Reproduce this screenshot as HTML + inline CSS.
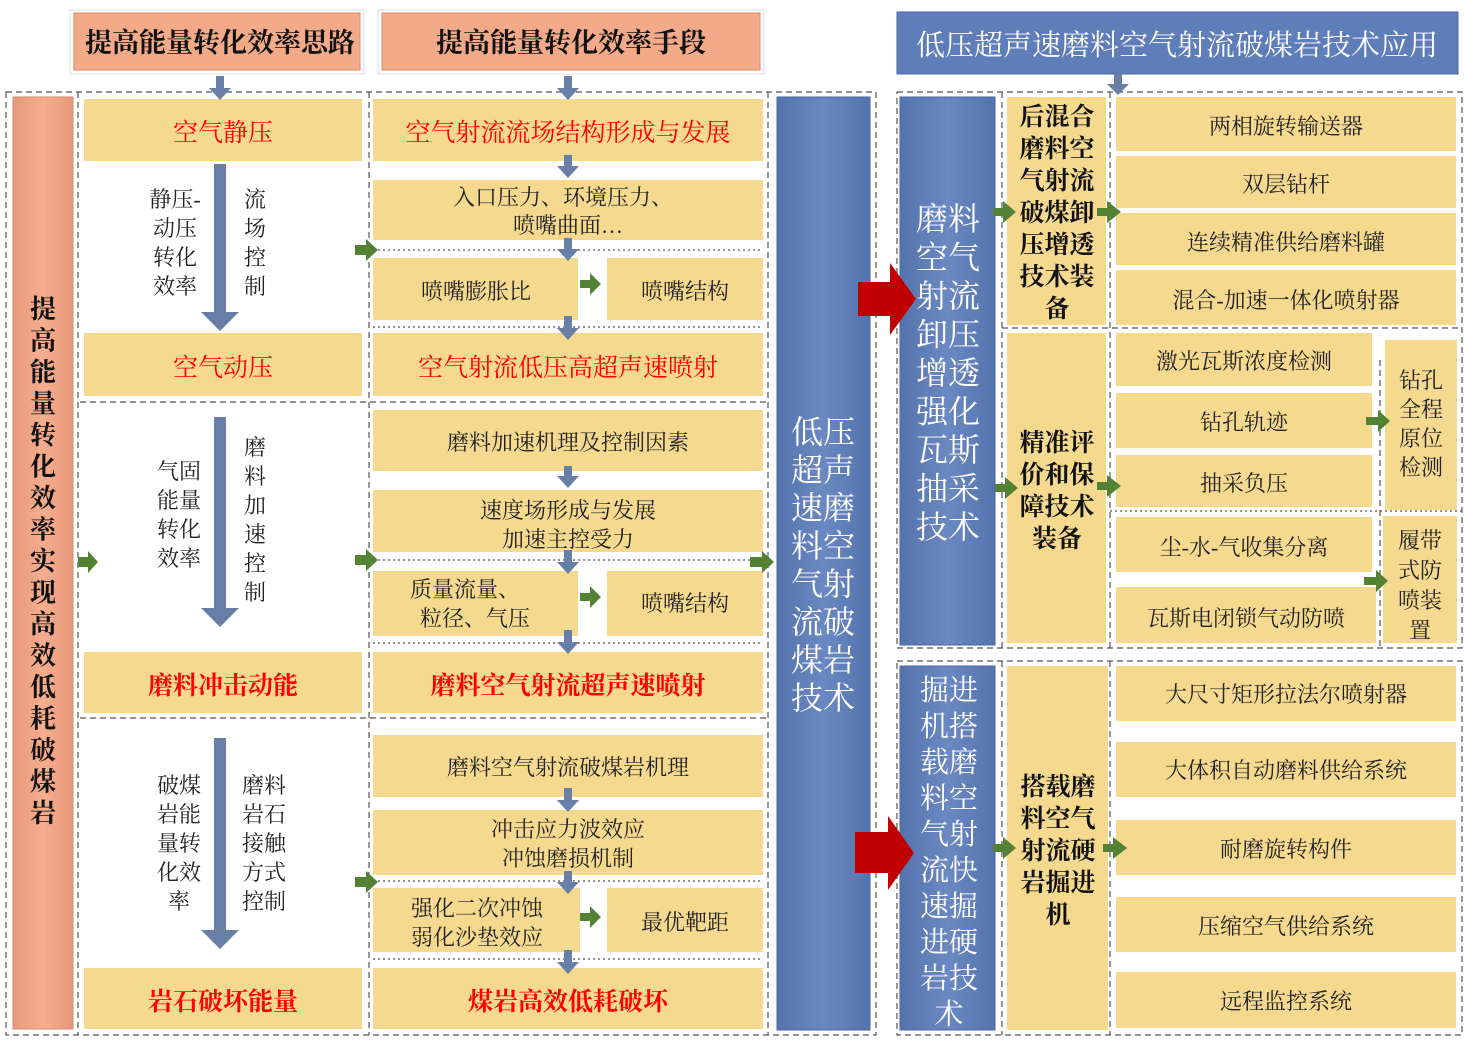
<!DOCTYPE html>
<html><head><meta charset="utf-8"><style>
html,body{margin:0;padding:0;background:#fff}
svg{display:block}
text{font-family:"Liberation Serif","Noto Serif CJK SC",serif;}
.y{fill:#f5d98f}
.n{font-size:22px;fill:#222;text-anchor:middle}
.r{font-size:25px;fill:#ff0000;text-anchor:middle}
.h{font-size:27px;fill:#111;text-anchor:middle;font-weight:bold}
.b{font-size:25px;fill:#111;text-anchor:middle;font-weight:bold}
.w{font-size:31px;fill:#fff;text-anchor:middle}
.d{fill:none;stroke:#555;stroke-width:1.2;stroke-dasharray:6 4}
.dt{fill:none;stroke:#555;stroke-width:1.2;stroke-dasharray:2 3}
.g{fill:#548235}
.ba{fill:#6a7fa8}
</style></head><body>
<svg width="1465" height="1054" viewBox="0 0 1465 1054" xmlns="http://www.w3.org/2000/svg">
<defs>
<linearGradient id="bl" x1="0" x2="1"><stop offset="0" stop-color="#5473ad"/><stop offset="0.5" stop-color="#6b88c2"/><stop offset="1" stop-color="#5473ad"/></linearGradient>
<linearGradient id="sa" x1="0" x2="1"><stop offset="0" stop-color="#e9977a"/><stop offset="0.5" stop-color="#f4ae8e"/><stop offset="1" stop-color="#e9977a"/></linearGradient>
</defs>
<!-- headers -->
<rect x="70" y="10" width="294" height="64" fill="#fff" stroke="#ddd"/>
<rect x="74" y="13" width="286" height="57" fill="#f2aa88" stroke="#d88a6a"/>
<text x="220" y="52" class="h">提高能量转化效率思路</text>
<rect x="378" y="10" width="386" height="64" fill="#fff" stroke="#ddd"/>
<rect x="382" y="13" width="378" height="57" fill="#f2aa88" stroke="#d88a6a"/>
<text x="571" y="52" class="h">提高能量转化效率手段</text>
<rect x="897" y="12" width="561" height="62" fill="#5f7db8" stroke="#4a66a0"/>
<text x="1177" y="55" style="font-size:29px;fill:#fff;text-anchor:middle">低压超声速磨料空气射流破煤岩技术应用</text>

<!-- left outer dashed -->
<rect x="6" y="92" width="870" height="943" class="d"/>
<line x1="78" y1="92" x2="78" y2="1035" class="d"/>
<line x1="369" y1="92" x2="369" y2="1035" class="d"/>
<line x1="768" y1="92" x2="768" y2="1035" class="d"/>
<line x1="80" y1="402" x2="768" y2="402" class="d"/>
<line x1="80" y1="718" x2="768" y2="718" class="d"/>
<!-- left salmon -->
<rect x="13" y="97" width="60" height="932" fill="url(#sa)" stroke="#d88a6a"/>
<text class="b" style="font-size:26px">
<tspan x="43" y="318">提</tspan><tspan x="43" dy="31.5">高</tspan><tspan x="43" dy="31.5">能</tspan><tspan x="43" dy="31.5">量</tspan><tspan x="43" dy="31.5">转</tspan><tspan x="43" dy="31.5">化</tspan><tspan x="43" dy="31.5">效</tspan><tspan x="43" dy="31.5">率</tspan><tspan x="43" dy="31.5">实</tspan><tspan x="43" dy="31.5">现</tspan><tspan x="43" dy="31.5">高</tspan><tspan x="43" dy="31.5">效</tspan><tspan x="43" dy="31.5">低</tspan><tspan x="43" dy="31.5">耗</tspan><tspan x="43" dy="31.5">破</tspan><tspan x="43" dy="31.5">煤</tspan><tspan x="43" dy="31.5">岩</tspan>
</text>

<!-- col1 -->
<rect x="84" y="99" width="278" height="62" class="y"/><text x="223" y="141" class="r">空气静压</text>
<rect x="84" y="333" width="278" height="63" class="y"/><text x="223" y="376" class="r">空气动压</text>
<rect x="84" y="652" width="278" height="61" class="y"/><text x="223" y="694" class="r" style="font-weight:bold">磨料冲击动能</text>
<rect x="84" y="968" width="278" height="61" class="y"/><text x="223" y="1010" class="r" style="font-weight:bold">岩石破坏能量</text>
<polygon class="ba" points="214,164 226,164 226,312 239,312 220,331 201,312 214,312"/>
<polygon class="ba" points="214,417 226,417 226,608 239,608 220,627 201,608 214,608"/>
<polygon class="ba" points="214,738 226,738 226,930 239,930 220,949 201,930 214,930"/>
<text class="n"><tspan x="175" y="207">静压-</tspan><tspan x="175" dy="29">动压</tspan><tspan x="175" dy="29">转化</tspan><tspan x="175" dy="29">效率</tspan></text>
<text class="n"><tspan x="255" y="207">流</tspan><tspan x="255" dy="29">场</tspan><tspan x="255" dy="29">控</tspan><tspan x="255" dy="29">制</tspan></text>
<text class="n"><tspan x="179" y="479">气固</tspan><tspan x="179" dy="29">能量</tspan><tspan x="179" dy="29">转化</tspan><tspan x="179" dy="29">效率</tspan></text>
<text class="n"><tspan x="255" y="455">磨</tspan><tspan x="255" dy="29">料</tspan><tspan x="255" dy="29">加</tspan><tspan x="255" dy="29">速</tspan><tspan x="255" dy="29">控</tspan><tspan x="255" dy="29">制</tspan></text>
<text class="n"><tspan x="179" y="793">破煤</tspan><tspan x="179" dy="29">岩能</tspan><tspan x="179" dy="29">量转</tspan><tspan x="179" dy="29">化效</tspan><tspan x="179" dy="29">率</tspan></text>
<text class="n"><tspan x="264" y="793">磨料</tspan><tspan x="264" dy="29">岩石</tspan><tspan x="264" dy="29">接触</tspan><tspan x="264" dy="29">方式</tspan><tspan x="264" dy="29">控制</tspan></text>

<!-- col2 -->
<rect x="373" y="99" width="390" height="62" class="y"/><text x="568" y="141" class="r">空气射流流场结构形成与发展</text>
<rect x="373" y="180" width="390" height="60" class="y"/><text class="n"><tspan x="563" y="205">入口压力、环境压力、</tspan><tspan x="568" dy="28">喷嘴曲面…</tspan></text>
<line x1="373" y1="250" x2="763" y2="250" class="dt"/>
<rect x="373" y="258" width="205" height="62" class="y"/><text x="476" y="299" class="n">喷嘴膨胀比</text>
<rect x="607" y="258" width="156" height="62" class="y"/><text x="685" y="299" class="n">喷嘴结构</text>
<line x1="373" y1="327" x2="763" y2="327" class="dt"/>
<rect x="373" y="333" width="390" height="63" class="y"/><text x="568" y="376" class="r">空气射流低压高超声速喷射</text>

<rect x="373" y="410" width="390" height="61" class="y"/><text x="568" y="450" class="n">磨料加速机理及控制因素</text>
<rect x="373" y="490" width="390" height="62" class="y"/><text class="n"><tspan x="568" y="518">速度场形成与发展</tspan><tspan x="568" dy="29">加速主控受力</tspan></text>
<line x1="373" y1="560" x2="763" y2="560" class="dt"/>
<rect x="373" y="571" width="205" height="65" class="y"/><text class="n"><tspan x="465" y="597">质量流量、</tspan><tspan x="475" dy="29">粒径、气压</tspan></text>
<rect x="607" y="571" width="156" height="65" class="y"/><text x="685" y="611" class="n">喷嘴结构</text>
<line x1="373" y1="643" x2="763" y2="643" class="dt"/>
<rect x="373" y="652" width="390" height="61" class="y"/><text x="568" y="694" class="r" style="font-weight:bold">磨料空气射流超声速喷射</text>

<rect x="373" y="735" width="390" height="62" class="y"/><text x="568" y="775" class="n">磨料空气射流破煤岩机理</text>
<rect x="373" y="810" width="390" height="65" class="y"/><text class="n"><tspan x="568" y="837">冲击应力波效应</tspan><tspan x="568" dy="29">冲蚀磨损机制</tspan></text>
<line x1="373" y1="881" x2="763" y2="881" class="dt"/>
<rect x="373" y="888" width="207" height="64" class="y"/><text class="n"><tspan x="477" y="916">强化二次冲蚀</tspan><tspan x="477" dy="29">弱化沙垫效应</tspan></text>
<rect x="607" y="888" width="156" height="64" class="y"/><text x="685" y="930" class="n">最优靶距</text>
<line x1="373" y1="959" x2="763" y2="959" class="dt"/>
<rect x="373" y="968" width="390" height="61" class="y"/><text x="568" y="1010" class="r" style="font-weight:bold">煤岩高效低耗破坏</text>

<!-- blue center column -->
<rect x="777" y="97" width="93" height="933" fill="url(#bl)" stroke="#4a66a0"/>
<text class="w" style="font-size:32px"><tspan x="823" y="443">低压</tspan><tspan x="823" dy="38">超声</tspan><tspan x="823" dy="38">速磨</tspan><tspan x="823" dy="38">料空</tspan><tspan x="823" dy="38">气射</tspan><tspan x="823" dy="38">流破</tspan><tspan x="823" dy="38">煤岩</tspan><tspan x="823" dy="38">技术</tspan></text>

<!-- right upper -->
<rect x="897" y="92" width="565" height="556" class="d"/>
<line x1="1002" y1="92" x2="1002" y2="648" class="d"/>
<line x1="1110" y1="92" x2="1110" y2="648" class="d"/>
<line x1="1002" y1="328" x2="1462" y2="328" class="d"/>
<line x1="1110" y1="511" x2="1462" y2="511" class="dt"/>
<line x1="1380" y1="360" x2="1380" y2="648" class="d"/>
<rect x="900" y="97" width="95" height="548" fill="url(#bl)" stroke="#4a66a0"/>
<text class="w" style="font-size:32px"><tspan x="948" y="230">磨料</tspan><tspan x="948" dy="38.5">空气</tspan><tspan x="948" dy="38.5">射流</tspan><tspan x="948" dy="38.5">卸压</tspan><tspan x="948" dy="38.5">增透</tspan><tspan x="948" dy="38.5">强化</tspan><tspan x="948" dy="38.5">瓦斯</tspan><tspan x="948" dy="38.5">抽采</tspan><tspan x="948" dy="38.5">技术</tspan></text>
<polygon fill="#c00000" points="858,282 890,282 890,263 916,299 890,335 890,316 858,316"/>
<rect x="1007" y="97" width="99" height="228" class="y"/>
<text class="b"><tspan x="1057" y="125">后混合</tspan><tspan x="1057" dy="32">磨料空</tspan><tspan x="1057" dy="32">气射流</tspan><tspan x="1057" dy="32">破煤卸</tspan><tspan x="1057" dy="32">压增透</tspan><tspan x="1057" dy="32">技术装</tspan><tspan x="1057" dy="32">备</tspan></text>
<rect x="1007" y="333" width="99" height="310" class="y"/>
<text class="b"><tspan x="1057" y="451">精准评</tspan><tspan x="1057" dy="32">价和保</tspan><tspan x="1057" dy="32">障技术</tspan><tspan x="1057" dy="32">装备</tspan></text>
<rect x="1116" y="97" width="340" height="54" class="y"/><text x="1286" y="134" class="n">两相旋转输送器</text>
<rect x="1116" y="156" width="340" height="52" class="y"/><text x="1286" y="192" class="n">双层钻杆</text>
<rect x="1116" y="213" width="340" height="52" class="y"/><text x="1286" y="250" class="n">连续精准供给磨料罐</text>
<rect x="1116" y="270" width="340" height="55" class="y"/><text x="1286" y="308" class="n">混合-加速一体化喷射器</text>
<rect x="1116" y="333" width="256" height="53" class="y"/><text x="1244" y="369" class="n">激光瓦斯浓度检测</text>
<rect x="1116" y="393" width="256" height="55" class="y"/><text x="1244" y="430" class="n">钻孔轨迹</text>
<rect x="1116" y="455" width="256" height="52" class="y"/><text x="1244" y="491" class="n">抽采负压</text>
<rect x="1116" y="517" width="256" height="55" class="y"/><text x="1244" y="555" class="n">尘-水-气收集分离</text>
<rect x="1116" y="587" width="260" height="56" class="y"/><text x="1246" y="626" class="n">瓦斯电闭锁气动防喷</text>
<rect x="1385" y="340" width="72" height="170" class="y"/>
<text class="n"><tspan x="1421" y="388">钻孔</tspan><tspan x="1421" dy="29">全程</tspan><tspan x="1421" dy="29">原位</tspan><tspan x="1421" dy="29">检测</tspan></text>
<rect x="1383" y="516" width="74" height="127" class="y"/>
<text class="n"><tspan x="1420" y="548">履带</tspan><tspan x="1420" dy="30">式防</tspan><tspan x="1420" dy="30">喷装</tspan><tspan x="1420" dy="30">置</tspan></text>

<!-- right lower -->
<rect x="897" y="661" width="565" height="374" class="d"/>
<line x1="1002" y1="661" x2="1002" y2="1035" class="d"/>
<line x1="1110" y1="661" x2="1110" y2="1035" class="d"/>
<rect x="900" y="666" width="95" height="364" fill="url(#bl)" stroke="#4a66a0"/>
<text class="w" style="font-size:29px"><tspan x="949" y="700">掘进</tspan><tspan x="949" dy="36">机搭</tspan><tspan x="949" dy="36">载磨</tspan><tspan x="949" dy="36">料空</tspan><tspan x="949" dy="36">气射</tspan><tspan x="949" dy="36">流快</tspan><tspan x="949" dy="36">速掘</tspan><tspan x="949" dy="36">进硬</tspan><tspan x="949" dy="36">岩技</tspan><tspan x="949" dy="36">术</tspan></text>
<polygon fill="#c00000" points="855,832 888,832 888,816 914,853 888,890 888,873 855,873"/>
<rect x="1007" y="666" width="101" height="364" class="y"/>
<text class="b"><tspan x="1058" y="795">搭载磨</tspan><tspan x="1058" dy="32">料空气</tspan><tspan x="1058" dy="32">射流硬</tspan><tspan x="1058" dy="32">岩掘进</tspan><tspan x="1058" dy="32">机</tspan></text>
<rect x="1116" y="666" width="340" height="55" class="y"/><text x="1286" y="702" class="n">大尺寸矩形拉法尔喷射器</text>
<rect x="1116" y="742" width="340" height="55" class="y"/><text x="1286" y="778" class="n">大体积自动磨料供给系统</text>
<rect x="1116" y="820" width="340" height="55" class="y"/><text x="1286" y="857" class="n">耐磨旋转构件</text>
<rect x="1116" y="897" width="340" height="55" class="y"/><text x="1286" y="934" class="n">压缩空气供给系统</text>
<rect x="1116" y="972" width="340" height="56" class="y"/><text x="1286" y="1009" class="n">远程监控系统</text>

<!-- blue down small arrows -->
<g class="ba">
<polygon points="216,76 224,76 224,88 231,88 220,100 209,88 216,88"/>
<polygon points="564,76 572,76 572,88 579,88 568,100 557,88 564,88"/>
<polygon points="1114,74 1122,74 1122,84 1129,84 1118,95 1107,84 1114,84"/>
<polygon points="564,155 572,155 572,166 579,166 568,178 557,166 564,166"/>
<polygon points="564,238 572,238 572,249 579,249 568,261 557,249 564,249"/>
<polygon points="564,316 572,316 572,328 579,328 568,340 557,328 564,328"/>
<polygon points="564,466 572,466 572,476 579,476 568,488 557,476 564,476"/>
<polygon points="564,550 572,550 572,562 579,562 568,574 557,562 564,562"/>
<polygon points="564,630 572,630 572,642 579,642 568,654 557,642 564,642"/>
<polygon points="564,788 572,788 572,800 579,800 568,812 557,800 564,800"/>
<polygon points="564,871 572,871 572,882 579,882 568,894 557,882 564,882"/>
<polygon points="564,950 572,950 572,962 579,962 568,974 557,962 564,962"/>
</g>
<!-- green arrows -->
<g class="g">
<polygon points="355,245 366,245 366,239 378,250 366,261 366,255 355,255"/>
<polygon points="355,555 366,555 366,549 378,560 366,571 366,565 355,565"/>
<polygon points="355,877 366,877 366,871 378,882 366,893 366,887 355,887"/>
<polygon points="78,557 88,557 88,551 98,562 88,573 88,567 78,567"/>
<polygon points="580,280 590,280 590,273 601,284 590,295 590,288 580,288"/>
<polygon points="580,593 590,593 590,586 601,597 590,608 590,601 580,601"/>
<polygon points="580,913 590,913 590,906 601,917 590,928 590,921 580,921"/>
<polygon points="750,557 762,557 762,551 774,562 762,573 762,567 750,567"/>
<polygon points="993,208 1003,208 1003,201 1016,212 1003,223 1003,216 993,216"/>
<polygon points="1097,208 1107,208 1107,201 1121,212 1107,223 1107,216 1097,216"/>
<polygon points="995,484 1005,484 1005,477 1018,488 1005,499 1005,492 995,492"/>
<polygon points="1097,482 1107,482 1107,475 1121,486 1107,497 1107,490 1097,490"/>
<polygon points="1366,417 1378,417 1378,410 1390,421 1378,432 1378,425 1366,425"/>
<polygon points="1364,577 1376,577 1376,570 1388,581 1376,592 1376,585 1364,585"/>
<polygon points="993,844 1003,844 1003,837 1016,848 1003,859 1003,852 993,852"/>
<polygon points="1103,844 1113,844 1113,837 1127,848 1113,859 1113,852 1103,852"/>
</g>
</svg>
</body></html>
